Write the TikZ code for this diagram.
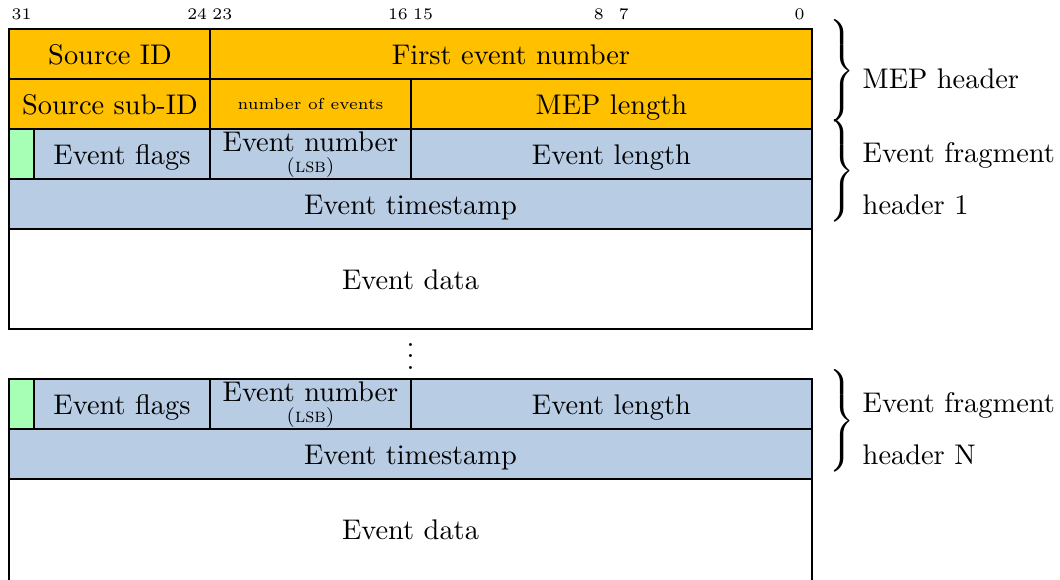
\documentclass[tikz,border=0pt]{standalone}
\definecolor{mepor}{HTML}{FFC000}
\definecolor{evblue}{HTML}{B8CCE4}
\definecolor{flaggreen}{HTML}{A6FFB4}
\begin{document}
\begin{tikzpicture}[x=0.352pt,y=-0.352pt,line width=0.5pt,
  mepcell/.style={fill=mepor,draw=black},
  evcell/.style={fill=evblue,draw=black},
  flagcell/.style={fill=flaggreen,draw=black},
  datacell/.style={draw=black},
  lbl/.style={anchor=base,inner sep=0pt},
  bitnum/.style={font=\fontsize{5.7}{7}\selectfont,inner sep=0pt},
  side/.style={anchor=base west,inner sep=0pt},
  bracenode/.style={anchor=west,inner sep=0pt}]
\useasboundingbox (0,0) rectangle (1060,579);

% bit numbers above the word
\foreach \b in {31,24,23,16,15,8,7,0}
  \node[bitnum] (bit\b) at ({9+(31.5-\b)*25.094},14.5) {\b};

% MEP header
\path[mepcell] (9,29) rectangle (210,79);
\path[mepcell] (210,29) rectangle (812,79);
\path[mepcell] (9,79) rectangle (210,129);
\path[mepcell] (210,79) rectangle (411,129);
\path[mepcell] (411,79) rectangle (812,129);
\node[lbl] (srcid) at (110,64) {Source ID};
\node[lbl] (firstev) at (511,64) {First event number};
\node[lbl] (srcsub) at (110,114) {Source sub-ID};
\node[lbl,font=\fontsize{5.6}{6}\selectfont] (nev) at (310.5,109) {number of events};
\node[lbl] (meplen) at (611.5,114) {MEP length};

% event fragment header 1
\path[flagcell] (9,129) rectangle (34,179);
\path[evcell] (34,129) rectangle (210,179);
\path[evcell] (210,129) rectangle (411,179);
\path[evcell] (411,129) rectangle (812,179);
\path[evcell] (9,179) rectangle (812,229);
\node[lbl] (flags1) at (122,164) {Event flags};
\node[lbl] (evnum1) at (310.5,151) {Event number};
\node[lbl,font=\scriptsize] (lsb1) at (310.5,172) {\textsc{(lsb)}};
\node[lbl] (evlen1) at (611.5,164) {Event length};
\node[lbl] (ts1) at (410.5,214) {Event timestamp};
\path[datacell] (9,229) rectangle (812,329);
\node[lbl] (data1) at (410.5,289) {Event data};

% continuation dots
\node[anchor=base,inner sep=0pt] (dots) at (410.5,369) {$\vdots$};

% event fragment header N
\path[flagcell] (9,379) rectangle (34,429);
\path[evcell] (34,379) rectangle (210,429);
\path[evcell] (210,379) rectangle (411,429);
\path[evcell] (411,379) rectangle (812,429);
\path[evcell] (9,429) rectangle (812,479);
\node[lbl] (flagsN) at (122,414) {Event flags};
\node[lbl] (evnumN) at (310.5,401) {Event number};
\node[lbl,font=\scriptsize] (lsbN) at (310.5,422) {\textsc{(lsb)}};
\node[lbl] (evlenN) at (611.5,414) {Event length};
\node[lbl] (tsN) at (410.5,464) {Event timestamp};
\draw (9,585) -- (9,479) -- (812,479) -- (812,585);
\node[lbl] (dataN) at (410.5,539) {Event data};

% word groups on the right
\node[bracenode] (brmep) at (825,71) {$\left.\vcenter{\hrule height 36pt width 0pt}\right\}$};
\node[bracenode] (brfrag1) at (825,171) {$\left.\vcenter{\hrule height 36pt width 0pt}\right\}$};
\node[bracenode] (brfragN) at (825,421) {$\left.\vcenter{\hrule height 36pt width 0pt}\right\}$};
\node[side] (lmep) at (862,88) {MEP header};
\node[side] (lfrag1a) at (862,162) {Event fragment};
\node[side] (lfrag1b) at (862,214) {header 1};
\node[side] (lfragNa) at (862,412) {Event fragment};
\node[side] (lfragNb) at (862,464) {header N};
\end{tikzpicture}
\end{document}
